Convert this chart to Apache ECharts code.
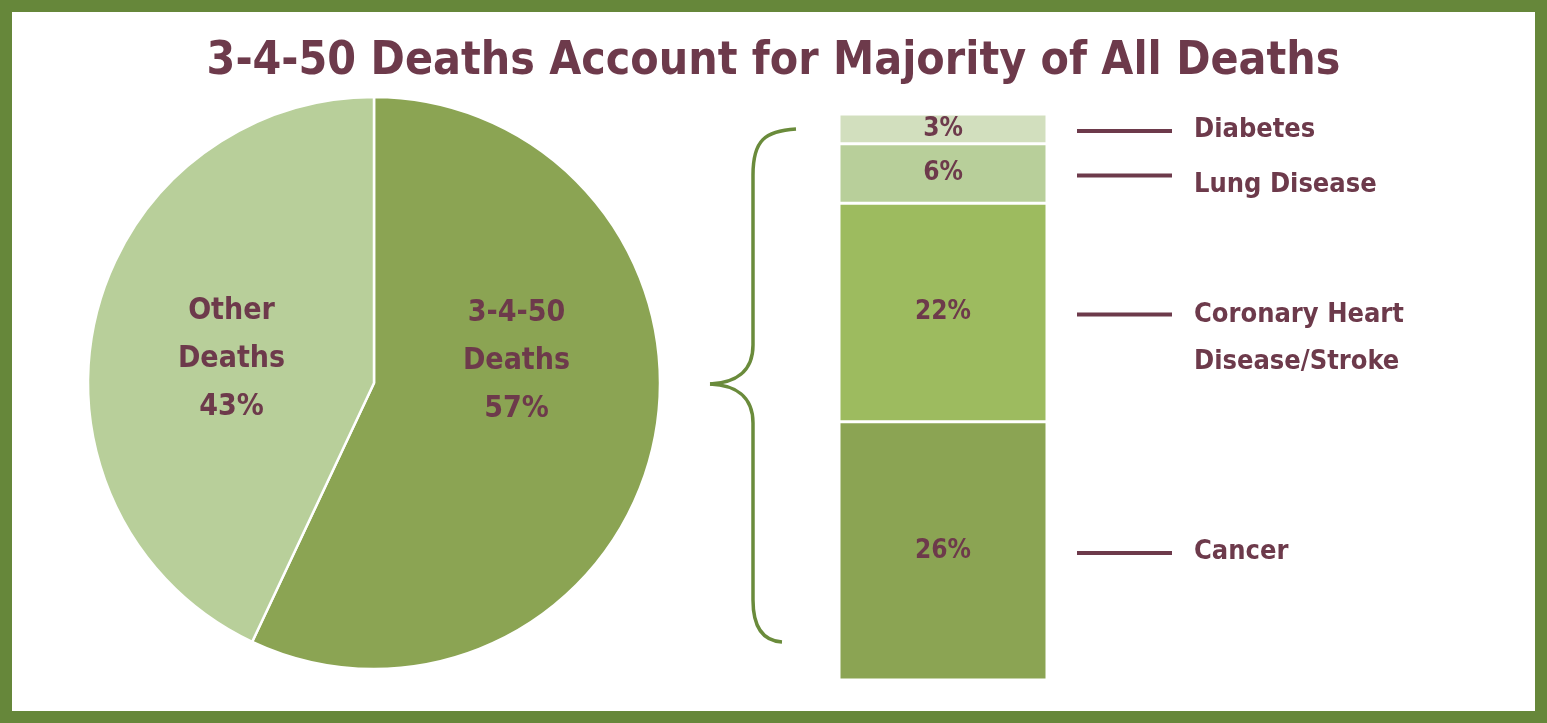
<!DOCTYPE html>
<html>
<head>
<meta charset="utf-8">
<script src="https://cdn.jsdelivr.net/npm/echarts@6/dist/echarts.min.js"></script>
<style>
html,body{margin:0;padding:0;background:#fff;}
#chart{width:1547px;height:723px;}
</style>
</head>
<body>
<div id="chart"></div>
<script>
// ---- data ----
const titleText = '3-4-50 Deaths Account for Majority of All Deaths';
const pieNames = ['3-4-50\nDeaths', 'Other\nDeaths'];
const pieValues = [57, 43];
const barNames = ['Cancer', 'Coronary Heart\nDisease/Stroke', 'Lung Disease', 'Diabetes'];
const barValues = [26, 22, 6, 3];
const barCategories = ['3-4-50'];

// ---- styles ----
const maroon = '#6d3a4b';
const pieColors = ['#8ba453', '#b8cf9a'];
const barColors = ['#8ba453', '#9dbb5f', '#b8cf9a', '#d2dfbe'];
const frameColor = '#66873a';
const braceColor = '#6a8b3b';
const font = '"Liberation Sans Narrow", "DejaVu Sans Condensed", sans-serif';
const pieLabelShift = [-54, 8];          // vertical nudge of pie labels (px)
const sideLabelShift = [0, -22, 10, 0];  // vertical nudge of side labels (px)

const chart = echarts.init(document.getElementById('chart'), null, {renderer: 'canvas'});

let cum = 0;
const labelData = barValues.map((v, i) => { const mid = cum + v / 2; cum += v; return [0, mid, i]; });
const barTotal = barValues.reduce((a, b) => a + b, 0);

const barSeries = barValues.map((v, i) => ({
  type: 'bar',
  name: barNames[i],
  stack: 'total',
  barWidth: '100%',
  data: [v],
  itemStyle: {color: barColors[i], borderColor: '#ffffff', borderWidth: 1.5},
  label: {
    show: true, position: 'inside',
    formatter: p => p.value + '%',
    color: maroon, fontFamily: font, fontWeight: 'bold', fontSize: 26
  },
  silent: true
}));

const braceStyle = {fill: 'none', stroke: braceColor, lineWidth: 3.5};
function bez(x1, y1, cx1, cy1, cx2, cy2, x2, y2) {
  return {type: 'bezierCurve', silent: true,
    shape: {x1: x1, y1: y1, cpx1: cx1, cpy1: cy1, cpx2: cx2, cpy2: cy2, x2: x2, y2: y2},
    style: braceStyle};
}
function seg(x1, y1, x2, y2) {
  return {type: 'line', silent: true, shape: {x1: x1, y1: y1, x2: x2, y2: y2}, style: braceStyle};
}

const option = {
  backgroundColor: '#ffffff',
  animation: false,
  title: {
    text: titleText, left: 'center', top: 34,
    textStyle: {color: maroon, fontFamily: font, fontWeight: 'bold', fontSize: 46}
  },
  grid: {left: 839, right: 500, top: 114, bottom: 43},
  xAxis: {type: 'category', data: barCategories, show: false},
  yAxis: {type: 'value', min: 0, max: barTotal, show: false},
  series: [
    {
      type: 'pie',
      center: [374, 383],
      radius: [0, 286],
      startAngle: 90,
      clockwise: true,
      silent: true,
      itemStyle: {borderColor: '#ffffff', borderWidth: 2.5},
      label: {
        show: true, position: 'inside',
        formatter: p => p.name + '\n' + p.value + '%',
        color: maroon, fontFamily: font, fontWeight: 'bold', fontSize: 30, lineHeight: 48
      },
      labelLine: {show: false},
      labelLayout: p => ({dy: pieLabelShift[p.dataIndex]}),
      data: pieValues.map((v, i) => ({name: pieNames[i], value: v, itemStyle: {color: pieColors[i]}}))
    },
    ...barSeries,
    {
      type: 'custom',
      silent: true,
      data: labelData,
      encode: {x: 0, y: 1},
      z: 10,
      renderItem: (params, api) => {
        const idx = api.value(2);
        const pt = api.coord([0, api.value(1)]);
        const half = api.size([1, 0])[0] / 2;
        const x0 = pt[0] + half + 30;
        const x1 = pt[0] + half + 125;
        const multi = barNames[idx].indexOf('\n') >= 0;
        return {
          type: 'group',
          children: [
            {type: 'line', shape: {x1: x0, y1: pt[1] + 2, x2: x1, y2: pt[1] + 2},
             style: {stroke: maroon, lineWidth: 4}},
            {type: 'text',
             style: {
               x: x1 + 22, y: pt[1] + 1 + sideLabelShift[idx],
               text: barNames[idx], fill: maroon,
               font: 'bold 27px ' + font,
               verticalAlign: multi ? 'top' : 'middle', align: 'left', lineHeight: 47
             }}
          ]
        };
      }
    }
  ],
  graphic: [
    {type: 'rect', silent: true, shape: {x: 6, y: 6, width: 1535, height: 711},
     style: {fill: 'none', stroke: frameColor, lineWidth: 12}},
    bez(796, 129, 765, 131, 753, 140, 753, 175),
    seg(753, 175, 753, 345),
    bez(753, 345, 753, 372, 735, 383, 710, 384),
    bez(710, 384, 735, 385, 753, 396, 753, 423),
    seg(753, 423, 753, 600),
    bez(753, 600, 753, 630, 765, 641, 782, 642)
  ]
};
chart.setOption(option);
</script>
</body>
</html>
